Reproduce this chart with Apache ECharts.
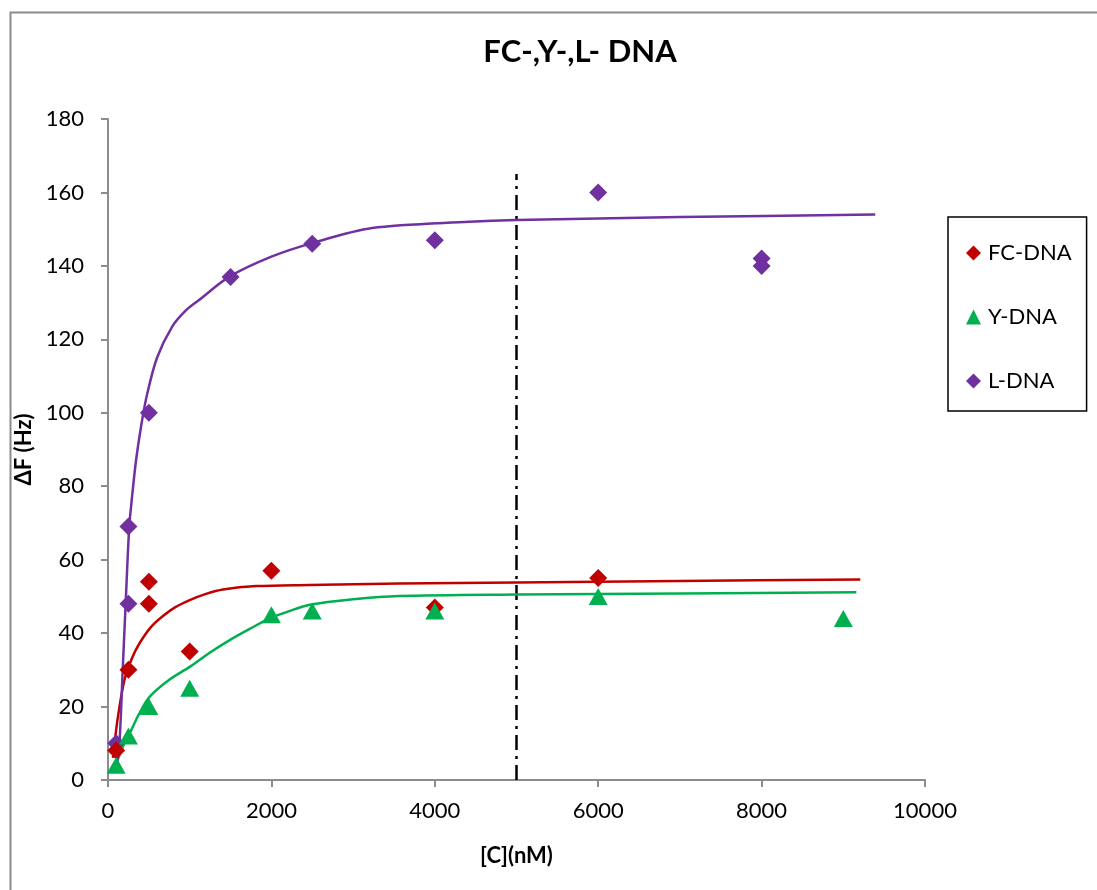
<!DOCTYPE html>
<html>
<head>
<meta charset="utf-8">
<script src="https://cdn.jsdelivr.net/npm/echarts@6/dist/echarts.min.js"></script>
<style>
html,body{margin:0;padding:0;background:#fff;}
#chart{width:1097px;height:890px;}
</style>
</head>
<body>
<div id="chart"></div>
<script>
// ---- data ----
const fcX = [100, 250, 500, 500, 1000, 2000, 4000, 6000];
const fcY = [8, 30, 54, 48, 35, 57, 47, 55];
const yX = [100, 250, 500, 1000, 2000, 2500, 4000, 6000, 9000];
const yY = [4, 12, 20, 25, 45, 46, 46, 50, 44];
const lX = [100, 250, 250, 500, 1500, 2500, 4000, 6000, 8000, 8000];
const lY = [10, 69, 48, 100, 137, 146, 147, 160, 142, 140];

// fitted trend curves
const fcFitX = [60, 120, 204, 300, 388, 520, 665, 820, 1000, 1200, 1408, 1816, 2461, 3563, 5000, 7000, 9208];
const fcFitY = [6, 17, 27.5, 33.5, 37.3, 41.5, 44.5, 47, 49, 50.7, 51.9, 52.8, 53.1, 53.5, 53.8, 54.2, 54.6];
const yFitX = [103, 180, 266, 380, 511, 750, 1000, 1240, 1490, 1740, 1980, 2220, 2470, 3000, 3563, 5000, 7000, 9160];
const yFitY = [4.5, 9, 12.7, 18, 22.7, 27.3, 30.8, 34.6, 38.1, 41.2, 44, 46, 47.7, 49.2, 50.1, 50.5, 50.8, 51.1];
const lFitX = [100, 140, 180, 216, 260, 294, 343, 410, 478, 600, 784, 950, 1114, 1482, 2000, 2498, 3233, 4420, 5000, 7000, 9391];
const lFitY = [3, 10, 30, 48, 69, 77, 87, 97, 105, 115, 123.4, 127.8, 130.7, 137, 142.5, 146.2, 150.3, 152, 152.5, 153.3, 154];

const refX = [5000, 5000];
const refY = [0, 165];

const xTicks = [0, 2000, 4000, 6000, 8000, 10000];
const yTicks = [0, 20, 40, 60, 80, 100, 120, 140, 160, 180];

const C_FC = '#C00000', C_Y = '#00B050', C_L = '#7030A0';
const FONT = 'Lato';

function pairs(xs, ys){ return xs.map((x,i)=>[x, ys[i]]); }

const chart = echarts.init(document.getElementById('chart'), null, {renderer:'canvas'});
const option = {
  backgroundColor: '#fff',
  animation: false,
  grid: {left: 108, top: 119, width: 817, height: 661, containLabel: false},
  xAxis: {
    type: 'value', min: xTicks[0], max: xTicks[xTicks.length-1], interval: 2000,
    name: '[C](nM)', nameLocation: 'middle', nameGap: 65,
    nameTextStyle: {fontFamily: FONT, fontWeight: 'bold', fontSize: 22, color: '#000'},
    axisLine: {show: true, onZero: false, lineStyle: {color: '#8c8c8c', width: 2}},
    axisTick: {show: true, length: 7, lineStyle: {color: '#8c8c8c', width: 2}},
    axisLabel: {fontFamily: FONT, fontSize: 22, color: '#000', margin: 20,
                formatter: v => String(v)},
    splitLine: {show: false}
  },
  yAxis: {
    type: 'value', min: yTicks[0], max: yTicks[yTicks.length-1], interval: 20,
    name: 'ΔF (Hz)', nameLocation: 'middle', nameGap: 64, nameRotate: 90,
    nameTextStyle: {fontFamily: FONT, fontWeight: 'bold', fontSize: 22, color: '#000'},
    axisLine: {show: true, lineStyle: {color: '#8c8c8c', width: 2}},
    axisTick: {show: true, length: 7, lineStyle: {color: '#8c8c8c', width: 2}},
    axisLabel: {fontFamily: FONT, fontSize: 22, color: '#000', margin: 24,
                formatter: v => String(v)},
    splitLine: {show: false}
  },
  legend: {
    orient: 'vertical', left: 948, top: 217,
    data: [
      {name: 'FC-DNA', icon: 'diamond'},
      {name: 'Y-DNA', icon: 'triangle'},
      {name: 'L-DNA', icon: 'diamond'}
    ],
    itemWidth: 15, itemHeight: 15, itemGap: 38,
    padding: [23, 15, 17, 18],
    borderColor: '#000', borderWidth: 1.5,
    textStyle: {fontFamily: FONT, fontSize: 22, lineHeight: 26, color: '#000', padding: [0,0,0,2]},
    selectedMode: false
  },
  graphic: [
    {type: 'rect', left: 8, top: 10, silent: true,
     shape: {x: 0, y: 0, width: 1200, height: 1000},
     style: {fill: 'none', stroke: '#8c8c8c', lineWidth: 2}, z: -10},
    {type: 'text', x: 580, y: 52, silent: true,
     style: {text: 'FC-,Y-,L- DNA', fontFamily: FONT, fontWeight: 'bold', fontSize: 31,
             fill: '#000', align: 'center', verticalAlign: 'middle'}}
  ],
  series: [
    {name: 'FC-fit', type: 'line', data: pairs(fcFitX, fcFitY), smooth: 0.3,
     showSymbol: false, symbol: 'none', lineStyle: {color: C_FC, width: 2.5}, z: 2, silent: true},
    {name: 'Y-fit', type: 'line', data: pairs(yFitX, yFitY), smooth: 0.3,
     showSymbol: false, symbol: 'none', lineStyle: {color: C_Y, width: 2.5}, z: 2, silent: true},
    {name: 'L-fit', type: 'line', data: pairs(lFitX, lFitY), smooth: 0.3,
     showSymbol: false, symbol: 'none', lineStyle: {color: C_L, width: 2.5}, z: 2, silent: true},
    {name: 'ref', type: 'line', data: pairs(refX, refY), showSymbol: false, symbol: 'none',
     lineStyle: {color: '#000', width: 2.5, type: [15, 6, 3, 6]}, z: 1, silent: true},
    {name: 'FC-DNA', type: 'scatter', data: pairs(fcX, fcY), symbol: 'diamond', symbolSize: 18,
     itemStyle: {color: C_FC, opacity: 1}, z: 4},
    {name: 'Y-DNA', type: 'scatter', data: pairs(yX, yY), symbol: 'triangle', symbolSize: [19, 17],
     itemStyle: {color: C_Y, opacity: 1}, z: 5},
    {name: 'L-DNA', type: 'scatter', data: pairs(lX, lY), symbol: 'diamond', symbolSize: 18,
     itemStyle: {color: C_L, opacity: 1}, z: 3}
  ]
};
chart.setOption(option);
</script>
</body>
</html>
